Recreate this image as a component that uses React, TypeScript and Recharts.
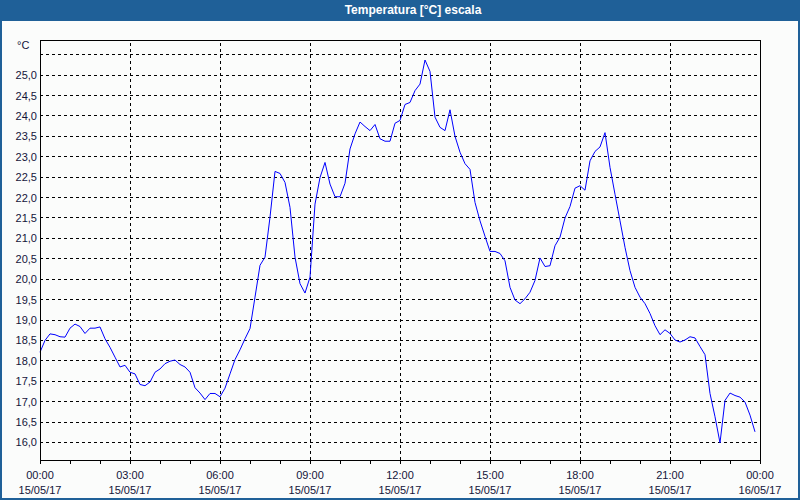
import React from 'react';
import { LineChart, Line, XAxis, YAxis, CartesianGrid, ReferenceLine } from 'recharts';

// minutes since 00:00 on 15/05/17, one reading every 10 min
const minutes = [
  0, 10, 20, 30, 40, 50, 60, 70, 80, 90, 100, 110,
  120, 130, 140, 150, 160, 170, 180, 190, 200, 210, 220, 230,
  240, 250, 260, 270, 280, 290, 300, 310, 320, 330, 340, 350,
  360, 370, 380, 390, 400, 410, 420, 430, 440, 450, 460, 470,
  480, 490, 500, 510, 520, 530, 540, 550, 560, 570, 580, 590,
  600, 610, 620, 630, 640, 650, 660, 670, 680, 690, 700, 710,
  720, 730, 740, 750, 760, 770, 780, 790, 800, 810, 820, 830,
  840, 850, 860, 870, 880, 890, 900, 910, 920, 930, 940, 950,
  960, 970, 980, 990, 1000, 1010, 1020, 1030, 1040, 1050, 1060, 1070,
  1080, 1090, 1100, 1110, 1120, 1130, 1140, 1150, 1160, 1170, 1180, 1190,
  1200, 1210, 1220, 1230, 1240, 1250, 1260, 1270, 1280, 1290, 1300, 1310,
  1320, 1330, 1340, 1350, 1360, 1370, 1380, 1390, 1400, 1410, 1420, 1430,
];

const temps = [
  18.21, 18.5, 18.66, 18.64, 18.59, 18.58, 18.8, 18.9, 18.84, 18.67, 18.8, 18.8,
  18.83, 18.54, 18.33, 18.09, 17.85, 17.89, 17.72, 17.68, 17.42, 17.39, 17.48, 17.72,
  17.8, 17.93, 17.99, 18.02, 17.91, 17.85, 17.72, 17.34, 17.21, 17.05, 17.2, 17.2,
  17.12, 17.33, 17.68, 18.03, 18.27, 18.54, 18.79, 19.56, 20.34, 20.54, 21.52, 22.64,
  22.59, 22.37, 21.76, 20.54, 19.89, 19.66, 20.05, 21.84, 22.49, 22.86, 22.33, 22.02,
  22.02, 22.35, 23.19, 23.56, 23.85, 23.74, 23.64, 23.79, 23.44, 23.38, 23.38, 23.82,
  23.89, 24.28, 24.33, 24.62, 24.78, 25.37, 25.09, 23.97, 23.72, 23.64, 24.15, 23.5,
  23.11, 22.83, 22.69, 21.88, 21.43, 21.05, 20.68, 20.68, 20.63, 20.45, 19.8, 19.49,
  19.4, 19.52, 19.68, 19.97, 20.52, 20.31, 20.33, 20.82, 21.03, 21.5, 21.78, 22.23,
  22.29, 22.18, 22.9, 23.13, 23.24, 23.59, 22.74, 22.08, 21.43, 20.78, 20.21, 19.8,
  19.56, 19.4, 19.16, 18.86, 18.64, 18.76, 18.67, 18.51, 18.46, 18.51, 18.59, 18.56,
  18.35, 18.15, 17.2, 16.63, 15.99, 17.03, 17.21, 17.15, 17.11, 16.99, 16.67, 16.26,
];

const hourTicks = [
  0, 60, 120, 180, 240, 300, 360, 420, 480, 540, 600, 660, 720,
  780, 840, 900, 960, 1020, 1080, 1140, 1200, 1260, 1320, 1380, 1440,
];
const gridMinutes = [180, 360, 540, 720, 900, 1080, 1260];
const tempTicks = [16, 16.5, 17, 17.5, 18, 18.5, 19, 19.5, 20, 20.5, 21, 21.5, 22, 22.5, 23, 23.5, 24, 24.5, 25, 25.5];

const timeLabels: Record<number, string> = {
  0: '00:00', 180: '03:00', 360: '06:00', 540: '09:00', 720: '12:00',
  900: '15:00', 1080: '18:00', 1260: '21:00', 1440: '00:00',
};
const dateLabels: Record<number, string> = {
  0: '15/05/17', 180: '15/05/17', 360: '15/05/17', 540: '15/05/17', 720: '15/05/17',
  900: '15/05/17', 1080: '15/05/17', 1260: '15/05/17', 1440: '16/05/17',
};

const data = minutes.map((m, i) => ({ t: m, temp: temps[i] }));

const FONT = '"Liberation Sans", Arial, sans-serif';
const TEXT = '#14143a';
const FRAME = '#1f6098';
const Y_MAX = 25.86;

const crisp =
  'body{margin:0}' +
  '.recharts-cartesian-grid line,.recharts-reference-line line,' +
  '.recharts-cartesian-axis-line,.recharts-cartesian-axis-tick-line{shape-rendering:crispEdges}';

const TimeTick = (props: any) => {
  const { x, y, payload } = props;
  const label = timeLabels[payload.value];
  if (!label) return null;
  return (
    <g>
      <text x={x} y={y + 13} textAnchor="middle" fontSize={11} fontFamily={FONT} fill={TEXT}>
        {label}
      </text>
      <text x={x} y={y + 28} textAnchor="middle" fontSize={11} fontFamily={FONT} fill={TEXT}>
        {dateLabels[payload.value]}
      </text>
    </g>
  );
};

const TempTick = (props: any) => {
  const { x, y, payload } = props;
  if (payload.value > 25.2) return null;
  return (
    <text x={x} y={y} dy={4} textAnchor="end" fontSize={11} fontFamily={FONT} fill={TEXT}>
      {payload.value.toFixed(1).replace('.', ',')}
    </text>
  );
};

export default function App() {
  return (
    <div style={{ position: 'relative', width: 800, height: 500, background: '#fbfcfb', fontFamily: FONT }}>
      <style>{crisp}</style>
      <div
        style={{
          position: 'absolute', top: 0, left: 0, width: 800, height: 21,
          background: FRAME, color: '#fff', fontWeight: 'bold', fontSize: 12,
          lineHeight: '21px', textAlign: 'center', boxSizing: 'border-box', paddingLeft: 26,
        }}
      >
        Temperatura [°C] escala
      </div>
      <div style={{ position: 'absolute', top: 21, left: 0, width: 2, height: 479, background: FRAME }} />
      <div style={{ position: 'absolute', top: 21, right: 0, width: 2, height: 479, background: FRAME }} />
      <div style={{ position: 'absolute', bottom: 0, left: 0, width: 800, height: 2, background: FRAME }} />
      <div style={{ position: 'absolute', top: 39, left: 17, fontSize: 11, color: TEXT }}>°C</div>

      <div style={{ position: 'absolute', top: 0, left: 0 }}>
        <LineChart width={800} height={500} data={data} margin={{ top: 40, right: 40, bottom: 0, left: 0 }}>
          <CartesianGrid vertical={false} stroke="#000" strokeDasharray="3 3" />
          {gridMinutes.map((m) => (
            <ReferenceLine key={m} x={m} stroke="#000" strokeDasharray="3 3" />
          ))}
          <ReferenceLine x={1440} stroke="#000" />
          <ReferenceLine y={Y_MAX} stroke="#000" />
          <XAxis
            dataKey="t"
            type="number"
            domain={[0, 1440]}
            ticks={hourTicks}
            height={40}
            tickSize={4}
            tickMargin={2}
            axisLine={{ stroke: '#000' }}
            tickLine={{ stroke: '#000' }}
            tick={<TimeTick />}
            interval={0}
          />
          <YAxis
            type="number"
            domain={[15.57, Y_MAX]}
            ticks={tempTicks}
            width={40}
            tickSize={0}
            tickMargin={3}
            axisLine={{ stroke: '#000' }}
            tickLine={false}
            tick={<TempTick />}
            interval={0}
            allowDataOverflow
          />
          <Line
            type="linear"
            dataKey="temp"
            stroke="#0000ff"
            strokeWidth={1}
            dot={false}
            isAnimationActive={false}
          />
        </LineChart>
      </div>
    </div>
  );
}
